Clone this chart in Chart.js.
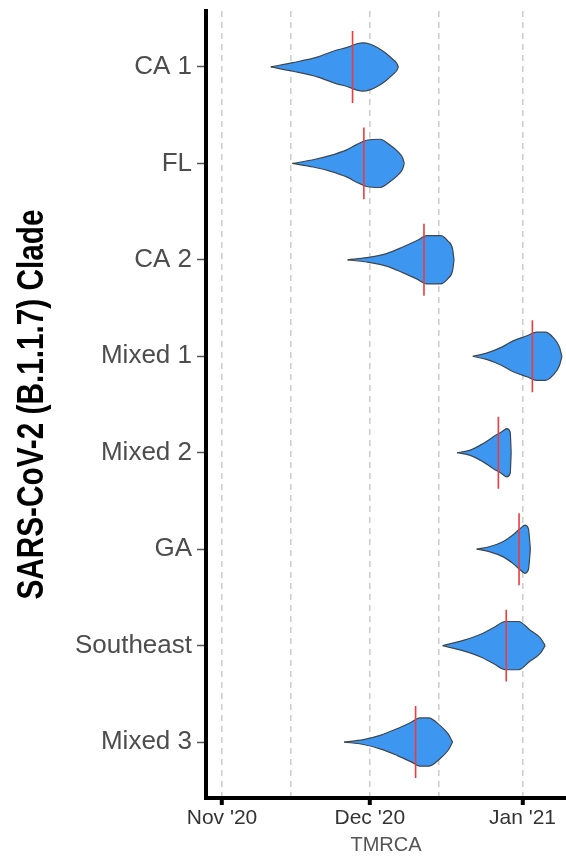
<!DOCTYPE html>
<html>
<head>
<meta charset="utf-8">
<script src="https://cdn.jsdelivr.net/npm/chart.js@4.4.1/dist/chart.umd.min.js"></script>
<style>
  html, body { margin: 0; padding: 0; background: #fff; }
  #grafico { display: block; }
</style>
</head>
<body>
<canvas id="grafico" width="566" height="856"></canvas>
<script>
// clades, top to bottom
const clades = ["CA 1", "FL", "CA 2", "Mixed 1", "Mixed 2", "GA", "Southeast", "Mixed 3"];

// x values are days after 1 Nov 2020
const tickDays = [0, 14, 30, 44, 61];
const tickLabels = ["Nov '20", "", "Dec '20", "", "Jan '21"];

// red line = point estimate of the TMRCA
const medianDay = [26.5, 28.8, 41.0, 63.0, 56.1, 60.3, 57.7, 39.3];

// violin outlines: day and relative density (max = 1)
const ca1Days = [9.9, 14.4, 19.5, 23.0, 25.4, 27.4, 28.6, 30.0, 31.6, 33.2, 34.6, 35.5, 35.8];
const ca1Dens = [0, .18, .42, .68, .81, .96, 1, .95, .8, .58, .33, .14, 0];
const flDays = [14.3, 18.5, 21.9, 25.4, 27.4, 29.4, 32.1, 34.1, 35.7, 36.7, 37.0];
const flDens = [0, .15, .32, .57, .79, .96, 1, .76, .49, .21, 0];
const ca2Days = [25.5, 29.4, 33.4, 36.8, 39.5, 41.6, 44.3, 45.9, 46.8, 47.1];
const ca2Dens = [0, .09, .26, .54, .79, 1, 1, .77, .45, 0];
const mixed1Days = [50.9, 53.7, 56.8, 59.1, 61.9, 63.9, 65.6, 67.3, 68.5, 69.0];
const mixed1Dens = [0, .13, .38, .64, .85, 1, 1, .76, .38, 0];
const mixed2Days = [47.7, 50.4, 53.0, 55.1, 56.8, 57.8, 58.5, 58.7];
const mixed2Dens = [0, .11, .38, .66, .87, 1, .85, 0];
const gaDays = [51.7, 54.4, 57.1, 59.1, 60.5, 61.5, 62.2, 62.6];
const gaDens = [0, .11, .32, .6, .85, 1, .85, 0];
const southeastDays = [44.8, 49.0, 52.4, 55.1, 57.5, 60.2, 62.5, 64.6, 65.6];
const southeastDens = [0, .22, .46, .74, 1, 1, .65, .32, 0];
const mixed3Days = [24.8, 28.7, 32.1, 35.5, 38.2, 40.2, 41.9, 44.3, 45.9, 46.8];
const mixed3Dens = [0, .1, .28, .55, .8, 1, 1, .68, .34, 0];

const violinDays = [ca1Days, flDays, ca2Days, mixed1Days, mixed2Days, gaDays, southeastDays, mixed3Days];
const violinDens = [ca1Dens, flDens, ca2Dens, mixed1Dens, mixed2Dens, gaDens, southeastDens, mixed3Dens];

const tituloY = "SARS-CoV-2 (B.1.1.7) Clade";

const meiaLargura = 0.25;   // half width of a violin, in category units
const meiaLinha = 0.373;    // half length of the red line

const datasets = [];
clades.forEach((c, i) => {
  const dias = violinDays[i];
  const dens = violinDens[i];
  // upper edge carries the fill down to the lower edge
  datasets.push({
    label: c + " sup",
    data: dias.map((d, k) => ({ x: d, y: i - meiaLargura * dens[k] })),
    borderColor: "#3d4650",
    borderWidth: 1.2,
    backgroundColor: "#3d97f0",
    fill: "+1",
    pointRadius: 0,
    cubicInterpolationMode: "monotone",
    order: 2
  });
  datasets.push({
    label: c + " inf",
    data: dias.map((d, k) => ({ x: d, y: i + meiaLargura * dens[k] })),
    borderColor: "#3d4650",
    borderWidth: 1.2,
    fill: false,
    pointRadius: 0,
    cubicInterpolationMode: "monotone",
    order: 1
  });
});
medianDay.forEach((d, i) => {
  datasets.push({
    label: clades[i] + " mediana",
    data: [{ x: d, y: i - meiaLinha }, { x: d, y: i + meiaLinha }],
    borderColor: "#ee3b3b",
    borderWidth: 1.6,
    fill: false,
    pointRadius: 0,
    order: 0
  });
});

const fonte = "'Liberation Sans', Arial, Helvetica, sans-serif";

// y title: bold, squeezed to the narrow look of the original
const tituloPlugin = {
  id: "tituloY",
  afterDraw(chart) {
    const ctx = chart.ctx;
    const area = chart.chartArea;
    ctx.save();
    ctx.font = "bold 36px 'Liberation Sans', Arial, sans-serif";
    ctx.fillStyle = "#000";
    ctx.textAlign = "center";
    ctx.textBaseline = "alphabetic";
    const largura = ctx.measureText(tituloY).width;
    ctx.translate(43, (area.top + area.bottom) / 2);
    ctx.rotate(-Math.PI / 2);
    ctx.scale(390 / largura, 1);
    ctx.fillText(tituloY, 0, 0);
    ctx.restore();
  }
};

new Chart(document.getElementById("grafico"), {
  type: "line",
  data: { datasets },
  plugins: [tituloPlugin],
  options: {
    responsive: false,
    animation: false,
    layout: { padding: { top: 11, left: 0, right: 0, bottom: 0 } },
    plugins: { legend: { display: false }, tooltip: { enabled: false } },
    scales: {
      x: {
        type: "linear",
        min: -3.25,
        max: 69.83,
        afterBuildTicks: (s) => { s.ticks = tickDays.map(v => ({ value: v })); },
        afterFit: (s) => { s.height = 58; s.paddingLeft = 0; s.paddingRight = 0; },
        ticks: {
          autoSkip: false,
          maxRotation: 0,
          padding: 1,
          color: "#333",
          font: { family: fonte, size: 21, lineHeight: 1.2 },
          callback: (v) => tickLabels[tickDays.indexOf(v)] || ""
        },
        grid: {
          color: "#cfcfcf",
          lineWidth: 1.6,
          drawTicks: true,
          tickLength: 7,
          tickWidth: 4,
          tickColor: (ctx) => (ctx.tick && tickLabels[tickDays.indexOf(ctx.tick.value)]) ? "#000" : "rgba(0,0,0,0)"
        },
        border: { display: true, color: "#000", width: 4, dash: [6, 5] },
        title: {
          display: true,
          text: "TMRCA",
          color: "#555",
          font: { family: fonte, size: 20, lineHeight: 1 },
          padding: { top: 0, bottom: 1 }
        }
      },
      y: {
        type: "linear",
        reverse: true,
        min: -0.58,
        max: 7.58,
        afterBuildTicks: (s) => { s.ticks = clades.map((_, i) => ({ value: i })); },
        afterFit: (s) => { s.width = 206; s.paddingTop = 0; s.paddingBottom = 0; },
        ticks: {
          autoSkip: false,
          padding: 5,
          color: "#4d4d4d",
          font: { family: fonte, size: 26, lineHeight: 1.2 },
          callback: (v) => clades[v] || ""
        },
        grid: {
          drawOnChartArea: false,
          drawTicks: true,
          tickLength: 9,
          tickWidth: 1.5,
          tickColor: "#555"
        },
        border: { display: true, color: "#000", width: 4 }
      }
    }
  }
});
</script>
</body>
</html>
